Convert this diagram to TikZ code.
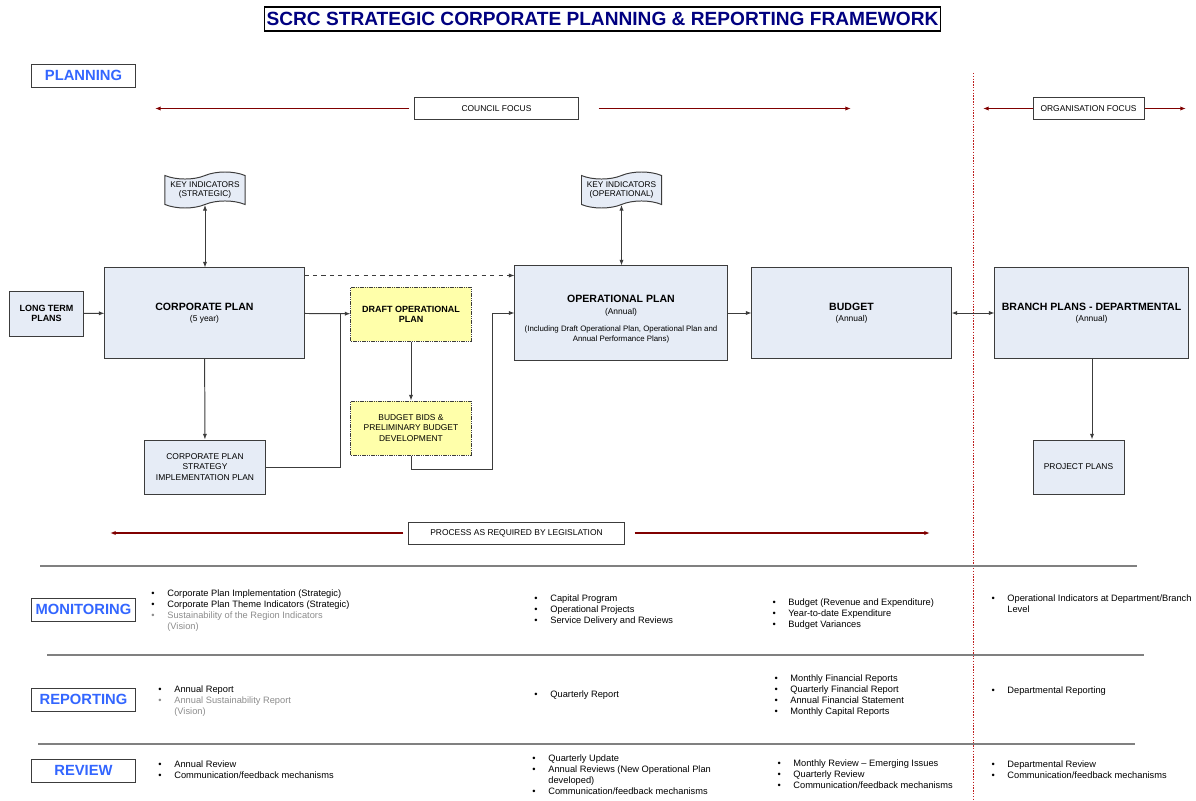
\documentclass[tikz,border=0pt]{standalone}
\usepackage{fontspec}
\setmainfont{Liberation Sans}
\usetikzlibrary{shapes.symbols,arrows.meta}
\definecolor{boxblue}{RGB}{230,236,246}
\definecolor{boxyellow}{RGB}{255,255,170}
\definecolor{headblue}{RGB}{51,102,255}
\definecolor{titlenavy}{RGB}{0,0,128}
\definecolor{focusred}{RGB}{128,0,0}
\definecolor{linered}{RGB}{190,30,30}
\definecolor{graytext}{RGB}{140,140,140}
\definecolor{edgegray}{RGB}{60,60,60}
\newcommand{\itm}[1]{\makebox[11.3pt][l]{\textbullet}#1}
\newcommand{\cnt}[1]{\hspace*{11.3pt}#1}
\newcommand{\boxhead}[1]{{\fontsize{7.5}{9}\selectfont\bfseries #1}}
\newcommand{\smallhead}[1]{{\fontsize{6.4}{7.6}\selectfont\bfseries #1}}

\begin{document}
\begin{tikzpicture}[x=0.025cm, y=-0.025cm, line width=0.7pt,
  main/.style={draw=edgegray, fill=boxblue, align=center, inner sep=1pt, minimum width=4.975cm, minimum height=2.25cm, font=\fontsize{6}{7.2}\selectfont},
  sub/.style={main, minimum width=3cm, minimum height=1.35cm},
  draft/.style={sub, fill=boxyellow, dash pattern=on 1pt off 0.6pt},
  ind/.style={tape, draw=edgegray, fill=boxblue, align=center, inner sep=0.5pt, minimum width=2cm, minimum height=0.9cm, tape bend height=5pt, font=\fontsize{5.9}{7}\selectfont},
  tag/.style={draw=edgegray, fill=white, inner sep=1pt, minimum height=0.55cm, font=\fontsize{6}{7}\selectfont},
  head/.style={draw=edgegray, text=headblue, minimum width=2.575cm, minimum height=0.575cm, inner sep=1pt, font=\fontsize{10.5}{12}\selectfont\bfseries},
  list/.style={anchor=north west, align=left, inner sep=0pt, font=\fontsize{6.6}{8}\selectfont},
  conn/.style={draw=edgegray, -{Latex[length=4pt,width=3pt]}},
  twoway/.style={draw=edgegray, {Latex[length=4pt,width=3pt]}-{Latex[length=4pt,width=3pt]}},
  focus/.style={draw=focusred, line width=0.8pt, -{Latex[length=4pt,width=3pt]}},
  divider/.style={draw=gray, line width=1pt}]
\useasboundingbox (0,0) rectangle (1196,801);
\node[draw, line width=0.8pt, text=titlenavy, minimum width=16.875cm, minimum height=0.6cm, inner sep=1pt, font=\fontsize{13.6}{16}\selectfont\bfseries] (title) at (602.5,19) {SCRC STRATEGIC CORPORATE PLANNING \& REPORTING FRAMEWORK};
\node[head] (planning) at (83.5,75.5) {PLANNING};
\node[head] (monitoring) at (83.5,609.5) {MONITORING};
\node[head] (reporting) at (83.5,699.5) {REPORTING};
\node[head] (review) at (83.5,770.5) {REVIEW};
\node[tag, minimum width=4.075cm] (council) at (496.5,108.5) {COUNCIL FOCUS};
\node[tag, minimum width=2.775cm] (orgfocus) at (1088.5,108.5) {ORGANISATION FOCUS};
\node[tag, minimum width=5.375cm] (process) at (516.5,533) {PROCESS AS REQUIRED BY LEGISLATION};
\coordinate (cfL) at (155,108.5);
\coordinate (cfR) at (851,108.5);
\coordinate (ofL) at (983,108.5);
\coordinate (ofR) at (1186,108.5);
\coordinate (plL) at (110,533);
\coordinate (plR) at (930,533);
\draw[focus] ([xshift=-1.25mm]council.west) -- (cfL);
\draw[focus] ([xshift=5mm]council.east) -- (cfR);
\draw[focus] (orgfocus.west) -- (ofL);
\draw[focus] (orgfocus.east) -- (ofR);
\draw[focus] ([xshift=-1.25mm]process.west) -- (plL);
\draw[focus] ([xshift=2.5mm]process.east) -- (plR);
\draw[linered, line width=0.5pt, dash pattern=on 1pt off 1pt] (973,73) -- (973,801);
\node[ind] (kis) at (205,190) {KEY INDICATORS\\(STRATEGIC)};
\node[ind] (kio) at (621.5,190) {KEY INDICATORS\\(OPERATIONAL)};
\node[main, minimum width=1.825cm, minimum height=1.125cm] (longterm) at (46.5,313.5) {\smallhead{LONG TERM}\\\smallhead{PLANS}};
\node[main] (corp) at (204.5,313) {\boxhead{CORPORATE PLAN}\\[1pt](5 year)};
\node[draft] (draft) at (411,314) {\smallhead{DRAFT OPERATIONAL}\\\smallhead{PLAN}};
\node[draft] (bids) at (411,428) {BUDGET BIDS \&\\PRELIMINARY BUDGET\\DEVELOPMENT};
\node[sub] (cpsip) at (205,467) {CORPORATE PLAN\\STRATEGY\\IMPLEMENTATION PLAN};
\node[main, minimum width=5.3cm, minimum height=2.35cm] (op) at (621,313) {\rule{0pt}{14pt}\boxhead{OPERATIONAL PLAN}\\[1pt](Annual)\\[5pt]{\fontsize{5.6}{6.8}\selectfont(Including Draft Operational Plan, Operational Plan and}\\{\fontsize{5.6}{6.8}\selectfont Annual Performance Plans)}};
\node[main] (budget) at (851.5,313) {\boxhead{BUDGET}\\[1pt](Annual)};
\node[main, minimum width=4.825cm] (branch) at (1091.5,313) {\boxhead{BRANCH PLANS - DEPARTMENTAL}\\[1pt](Annual)};
\node[sub, minimum width=2.275cm] (project) at (1078.5,467) {PROJECT PLANS};
\coordinate (j1) at (340,314);
\coordinate (j2) at (492,469);
\draw[twoway] (kis.south) -- (kis.south |- corp.north);
\draw[twoway] (kio.south) -- (kio.south |- op.north);
\draw[conn] (longterm) -- (corp);
\draw[conn] (corp) -- (draft);
\draw[conn] (corp) -- (cpsip);
\draw[draw=edgegray] (cpsip.east) -| (j1);
\draw[conn] (draft) -- (bids);
\draw[conn] (bids.south) |- (j2) |- (op.west);
\draw[conn, dashed] ([yshift=-2mm]corp.north east) -- ([yshift=-2mm]corp.north east -| op.west);
\draw[conn] (op) -- (budget);
\draw[twoway] (budget) -- (branch);
\draw[conn] (branch.south -| 1092,0) -- (project.north -| 1092,0);
\draw[divider] (40,566) -- (1137,566);
\draw[divider] (47,655) -- (1144,655);
\draw[divider] (38,744) -- (1135,744);
\node[list] (mon1) at (151,589) {\itm{Corporate Plan Implementation (Strategic)}\\\itm{Corporate Plan Theme Indicators (Strategic)}\\\textcolor{graytext}{\itm{Sustainability of the Region Indicators}}\\\textcolor{graytext}{\cnt{(Vision)}}};
\node[list] (mon2) at (534,594) {\itm{Capital Program}\\\itm{Operational Projects}\\\itm{Service Delivery and Reviews}};
\node[list] (mon3) at (772,598) {\itm{Budget (Revenue and Expenditure)}\\\itm{Year-to-date Expenditure}\\\itm{Budget Variances}};
\node[list] (mon4) at (991,594) {\itm{Operational Indicators at Department/Branch}\\\cnt{Level}};
\node[list] (rep1) at (158,685) {\itm{Annual Report}\\\textcolor{graytext}{\itm{Annual Sustainability Report}}\\\textcolor{graytext}{\cnt{(Vision)}}};
\node[list] (rep2) at (534,690) {\itm{Quarterly Report}};
\node[list] (rep3) at (774,674) {\itm{Monthly Financial Reports}\\\itm{Quarterly Financial Report}\\\itm{Annual Financial Statement}\\\itm{Monthly Capital Reports}};
\node[list] (rep4) at (991,686) {\itm{Departmental Reporting}};
\node[list] (rev1) at (158,760) {\itm{Annual Review}\\\itm{Communication/feedback mechanisms}};
\node[list] (rev2) at (532,754) {\itm{Quarterly Update}\\\itm{Annual Reviews (New Operational Plan}\\\cnt{developed)}\\\itm{Communication/feedback mechanisms}};
\node[list] (rev3) at (777,759) {\itm{Monthly Review – Emerging Issues}\\\itm{Quarterly Review}\\\itm{Communication/feedback mechanisms}};
\node[list] (rev4) at (991,760) {\itm{Departmental Review}\\\itm{Communication/feedback mechanisms}};
\end{tikzpicture}
\end{document}
